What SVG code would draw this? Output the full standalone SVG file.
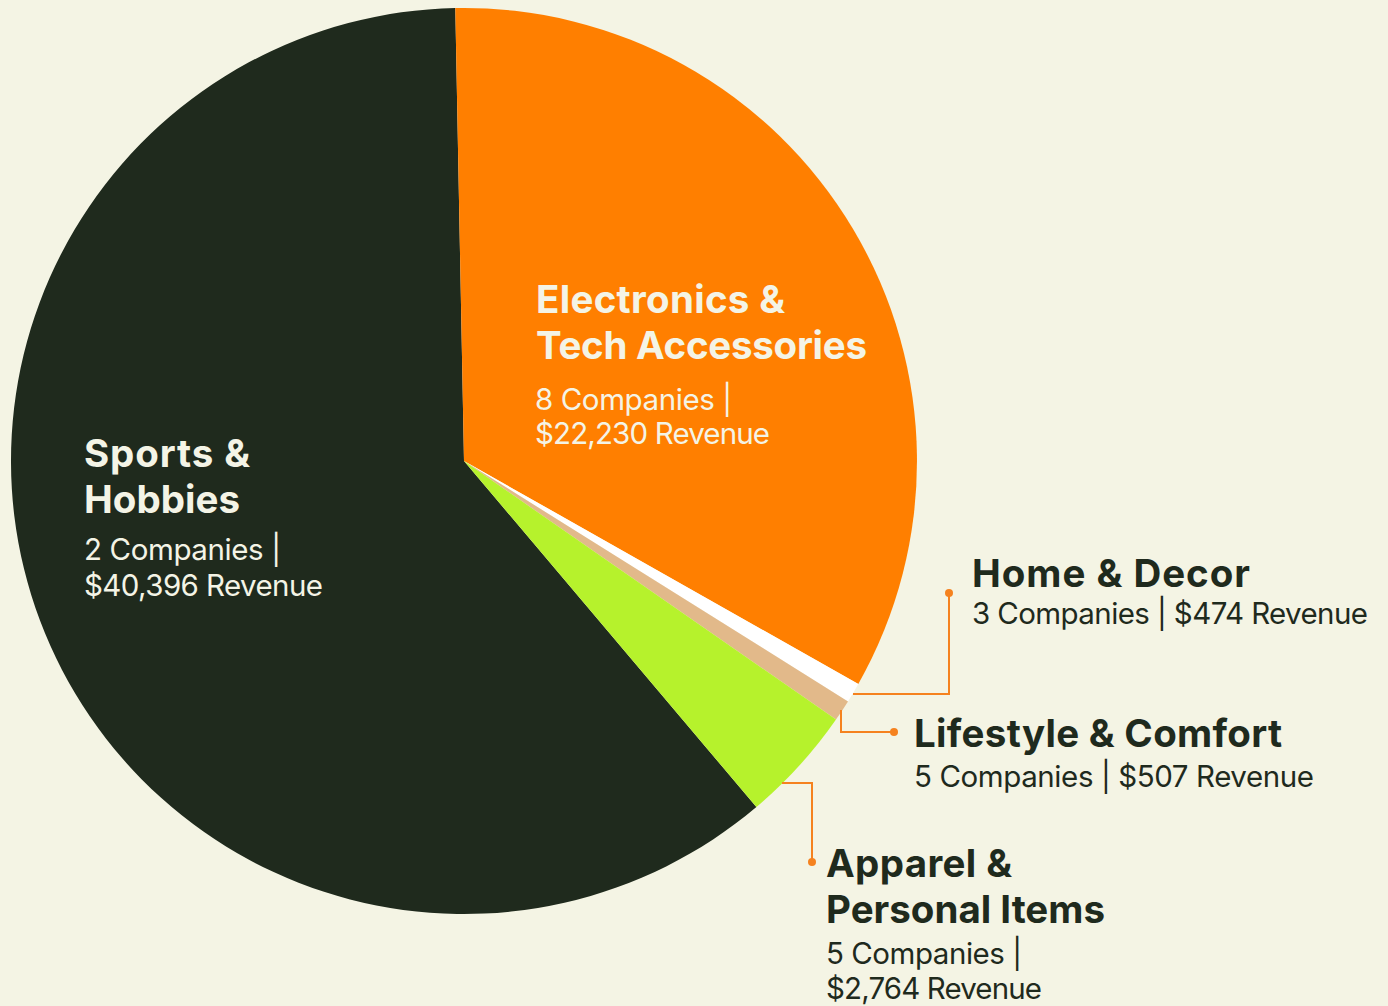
<svg xmlns="http://www.w3.org/2000/svg" width="1388" height="1006" viewBox="0 0 1388 1006">
<style>
.title{font-family:Inter,"Liberation Sans",sans-serif;font-weight:700;font-size:38.5px}
.sub{font-family:Inter,"Liberation Sans",sans-serif;font-weight:400;font-size:29.5px}
.dark{fill:#1f2a1d}
.light{fill:#f4f4e6}
.conn{fill:none;stroke:#f5821f;stroke-width:2}
.dot{fill:#f5821f}
</style>
<rect width="1388" height="1006" fill="#f4f4e4"/>
<g id="slices">
<path id="sports" d="M464,461 L756.4,807 A453,453 0 1 1 455.3,8.1 Z" fill="#1f2a1d"/>
<path id="electronics" d="M464,461 L455.3,8.1 A453,453 0 0 1 858.3,684 Z" fill="#ff7f00"/>
<path id="home" d="M464,461 L858.3,684 A453,453 0 0 1 848,701.4 Z" fill="#ffffff"/>
<path id="lifestyle" d="M464,461 L848,701.4 A453,453 0 0 1 836,719.5 Z" fill="#e2b98a"/>
<path id="apparel" d="M464,461 L836,719.5 A453,453 0 0 1 756.4,807 Z" fill="#b6f22c"/>
</g>
<g id="connectors">
<polyline class="conn" points="853,694 949,694 949,593"/>
<circle class="dot" cx="949" cy="593" r="4"/>
<polyline class="conn" points="841,710 841,732 894,732"/>
<circle class="dot" cx="894" cy="732" r="4"/>
<polyline class="conn" points="782,783 812,783 812,862"/>
<circle class="dot" cx="812" cy="862" r="4"/>
</g>
<g id="label-sports">
<text class="title light" x="84" y="467" textLength="166" lengthAdjust="spacing">Sports &amp;</text>
<text class="title light" x="84" y="513" textLength="156" lengthAdjust="spacing">Hobbies</text>
<text class="sub light" x="84" y="560" textLength="197" lengthAdjust="spacing">2 Companies |</text>
<text class="sub light" x="84" y="596" textLength="239" lengthAdjust="spacing">$40,396 Revenue</text>
</g>
<g id="label-electronics">
<text class="title light" x="536" y="313" textLength="249" lengthAdjust="spacing">Electronics &amp;</text>
<text class="title light" x="536" y="359" textLength="331" lengthAdjust="spacing">Tech Accessories</text>
<text class="sub light" x="535" y="410" textLength="197" lengthAdjust="spacing">8 Companies |</text>
<text class="sub light" x="535" y="444" textLength="235" lengthAdjust="spacing">$22,230 Revenue</text>
</g>
<g id="label-home">
<text class="title dark" x="972" y="587" textLength="278" lengthAdjust="spacing">Home &amp; Decor</text>
<text class="sub dark" x="972" y="624" textLength="396" lengthAdjust="spacing">3 Companies | $474 Revenue</text>
</g>
<g id="label-lifestyle">
<text class="title dark" x="914" y="747" textLength="368" lengthAdjust="spacing">Lifestyle &amp; Comfort</text>
<text class="sub dark" x="914" y="787" textLength="400" lengthAdjust="spacing">5 Companies | $507 Revenue</text>
</g>
<g id="label-apparel">
<text class="title dark" x="826" y="877" textLength="186" lengthAdjust="spacing">Apparel &amp;</text>
<text class="title dark" x="826" y="923" textLength="279" lengthAdjust="spacing">Personal Items</text>
<text class="sub dark" x="826" y="964" textLength="196" lengthAdjust="spacing">5 Companies |</text>
<text class="sub dark" x="826" y="999" textLength="216" lengthAdjust="spacing">$2,764 Revenue</text>
</g>
</svg>
